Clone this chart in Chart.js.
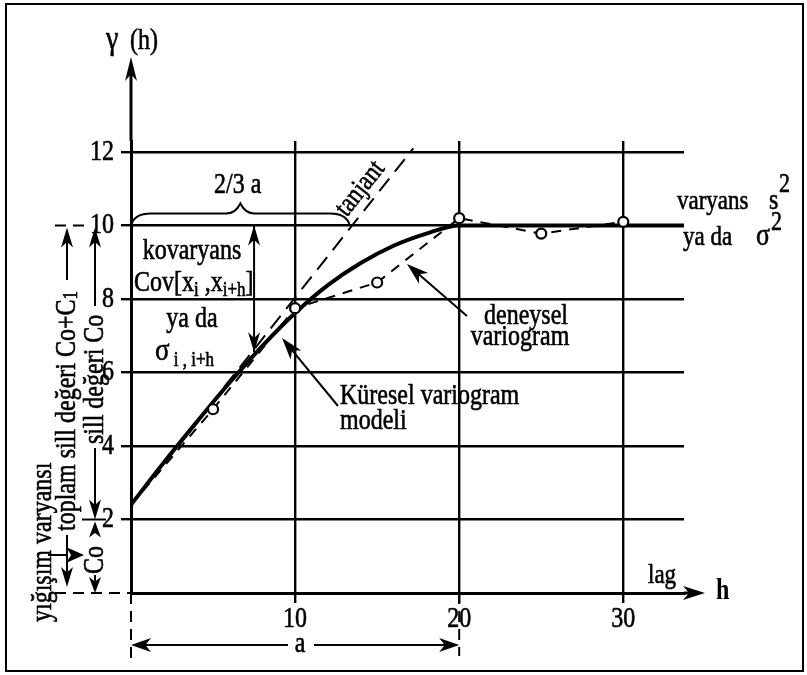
<!DOCTYPE html>
<html>
<head>
<meta charset="utf-8">
<title>Variogram</title>
<script src="https://cdn.jsdelivr.net/npm/chart.js@4.4.1/dist/chart.umd.min.js"></script>
<style>
  html, body { margin: 0; padding: 0; background: #fff; }
</style>
</head>
<body>
<canvas id="chartVariogram" width="807" height="675"></canvas>
<script>
// küresel model eğrisi (h, gamma)
const lagModel   = [0, 2, 4, 6, 8, 10, 12, 14, 16, 18, 20, 25, 30, 33.7];
const gammaModel = [2.4, 3.55, 4.65, 5.72, 6.72, 7.62, 8.38, 8.98, 9.45, 9.78, 10.0, 10.0, 10.0, 10.0];

// deneysel variogram noktaları (ilk nokta orijin, işaretsiz)
const lagObs   = [0, 5, 10, 15, 20, 25, 30];
const gammaObs = [2.4, 5.0, 7.75, 8.45, 10.2, 9.78, 10.1];

// tanjant doğrusu
const lagTan   = [0, 17.2];
const gammaTan = [2.4, 12.1];

// eksen değerleri
const xTicks = [10, 20, 30];
const yTicks = [2, 4, 6, 8, 10, 12];
const sill = 10;
const range = 20;
const nugget = 2;
const covLag = 7.5;
const covGamma = 6.55;

const serif = "'Liberation Serif', 'Times New Roman', serif";
const stretch = 1.2;   // taranmış şekildeki harfler biraz uzun

function toPoints(xs, ys) {
    return xs.map((x, i) => ({ x: x, y: ys[i] }));
}

function seg(ctx, x1, y1, x2, y2, w, dash) {
    ctx.save();
    ctx.lineWidth = w || 2;
    ctx.setLineDash(dash || []);
    ctx.beginPath();
    ctx.moveTo(x1, y1);
    ctx.lineTo(x2, y2);
    ctx.stroke();
    ctx.restore();
}

function head(ctx, x, y, ang, len, half) {
    len = len || 18;
    half = half || 6;
    ctx.save();
    ctx.translate(x, y);
    ctx.rotate(ang);
    ctx.beginPath();
    ctx.moveTo(0, 0);
    ctx.lineTo(-len, -half);
    ctx.lineTo(-len * 0.72, 0);
    ctx.lineTo(-len, half);
    ctx.closePath();
    ctx.fill();
    ctx.restore();
}

function arrow(ctx, x1, y1, x2, y2, w, len, half) {
    const ang = Math.atan2(y2 - y1, x2 - x1);
    seg(ctx, x1, y1, x2 - Math.cos(ang) * 6, y2 - Math.sin(ang) * 6, w);
    head(ctx, x2, y2, ang, len, half);
}

// parçalı metin: [metin, boyut, dikey kaydırma]
function parts(ctx, list, x, y) {
    ctx.save();
    ctx.translate(x, y);
    ctx.scale(1, stretch);
    ctx.lineWidth = 0.5;
    let cx = 0;
    list.forEach(p => {
        ctx.font = p[1] + 'px ' + serif;
        const dy = (p[2] || 0) / stretch;
        ctx.fillText(p[0], cx, dy);
        ctx.strokeText(p[0], cx, dy);
        cx += ctx.measureText(p[0]).width;
    });
    ctx.restore();
}

// dikey (aşağıdan yukarı) metin
function vParts(ctx, list, x, yBottom) {
    ctx.save();
    ctx.translate(x, yBottom);
    ctx.rotate(-Math.PI / 2);
    ctx.textBaseline = 'middle';
    ctx.textAlign = 'left';
    parts(ctx, list, 0, 0);
    ctx.restore();
}

const annotations = {
    id: 'annotations',
    afterDatasetsDraw(chart) {
        const ctx = chart.ctx;
        const xs = chart.scales.x;
        const ys = chart.scales.y;
        const X = v => xs.getPixelForValue(v);
        const Y = v => ys.getPixelForValue(v);
        const x0 = X(0), y0 = Y(0), y10 = Y(sill);

        ctx.save();
        ctx.fillStyle = '#000';
        ctx.strokeStyle = '#000';

        // çerçeve
        ctx.lineWidth = 2;
        ctx.strokeRect(6, 4, 797, 667);

        // eksen etiketleri
        ctx.textAlign = 'right';
        ctx.textBaseline = 'middle';
        ys.ticks.forEach(t => parts(ctx, [[String(t.value), 24]], x0 - 17, Y(t.value)));
        ctx.textAlign = 'center';
        ctx.textBaseline = 'alphabetic';
        xs.ticks.forEach(t => parts(ctx, [[String(t.value), 24]], X(t.value), 627));

        // eksen okları
        seg(ctx, x0, chart.chartArea.top, x0, 70, 3);
        head(ctx, x0, 57, -Math.PI / 2, 24, 6);
        seg(ctx, chart.chartArea.right, y0, 692, y0, 3);
        head(ctx, 705, y0, 0, 22, 7);

        ctx.textAlign = 'left';
        parts(ctx, [['\u03b3', 28]], 106, 49);
        parts(ctx, [['(h)', 24]], 130, 49);
        parts(ctx, [['lag', 23]], 648, 583);
        ctx.save();
        ctx.translate(716, 599);
        ctx.scale(1, stretch);
        ctx.font = 'bold 24px ' + serif;
        ctx.fillText('h', 0, 0);
        ctx.restore();

        // sol kesikli çizgiler
        seg(ctx, 55, y10, 88, y10, 2, [11, 7]);
        seg(ctx, 55, y0, x0, y0, 2, [11, 7]);
        seg(ctx, x0, y0, x0, 660, 2, [11, 7]);
        seg(ctx, X(range), y0, X(range), 656, 2, [11, 7]);

        // menzil a
        arrow(ctx, 288, 645, x0, 645, 2, 20, 7);
        arrow(ctx, 314, 645, X(range), 645, 2, 20, 7);
        ctx.textAlign = 'center';
        parts(ctx, [['a', 24]], 300, 652);

        // 2/3 a küme parantezi
        const mid = X(range / 3), xr = X(range * 2 / 3);
        const top = y10 - 12, peak = y10 - 22;
        ctx.lineWidth = 2;
        ctx.beginPath();
        ctx.moveTo(x0, y10);
        ctx.quadraticCurveTo(x0 + 3, top, x0 + 20, top);
        ctx.lineTo(mid - 14, top);
        ctx.quadraticCurveTo(mid - 5, top, mid, peak);
        ctx.quadraticCurveTo(mid + 5, top, mid + 14, top);
        ctx.lineTo(xr - 20, top);
        ctx.quadraticCurveTo(xr - 3, top, xr, y10);
        ctx.stroke();
        ctx.textAlign = 'left';
        parts(ctx, [['2/3 a', 24]], 214, 193);

        // tanjant yazısı
        const ang = Math.atan2(Y(gammaTan[1]) - Y(gammaTan[0]), X(lagTan[1]) - X(lagTan[0]));
        ctx.save();
        ctx.translate(X(15.2) - 20, Y(11.0));
        ctx.rotate(ang);
        ctx.textAlign = 'center';
        ctx.textBaseline = 'middle';
        parts(ctx, [['tanjant', 23]], 0, 0);
        ctx.restore();

        // kovaryans oku
        const cx = X(covLag);
        seg(ctx, cx, Y(covGamma), cx, y10, 2);
        head(ctx, cx, y10, -Math.PI / 2, 20, 6);
        head(ctx, cx, Y(covGamma), Math.PI / 2, 20, 6);

        ctx.textAlign = 'center';
        parts(ctx, [['kovaryans', 24]], 192, 259);
        ctx.textAlign = 'left';
        parts(ctx, [['Cov[x', 24], ['i', 17, 5], [' ,x', 24], ['i+h', 17, 5], [']', 24]], 134, 291);
        ctx.textAlign = 'center';
        parts(ctx, [['ya da', 24]], 192, 327);
        ctx.textAlign = 'left';
        parts(ctx, [['\u03c3', 27], [' i , i+h', 17, 6]], 155, 360);

        // küresel model oku
        arrow(ctx, 338, 406, 282, 338, 2, 22, 7);
        parts(ctx, [['K\u00fcresel variogram', 24]], 340, 404);
        parts(ctx, [['modeli', 24]], 340, 429);

        // deneysel variogram oku
        arrow(ctx, 467, 316, 407, 264, 2, 22, 7);
        ctx.textAlign = 'center';
        parts(ctx, [['deneysel', 24]], 526, 324);
        parts(ctx, [['variogram', 24]], 520, 345);

        // sağ taraf yazıları
        ctx.textAlign = 'left';
        parts(ctx, [['varyans', 23]], 677, 209);
        parts(ctx, [['s', 24]], 769, 209);
        parts(ctx, [['2', 22]], 779, 192);
        parts(ctx, [['ya da', 23]], 683, 245);
        parts(ctx, [['\u03c3', 26]], 756, 245);
        parts(ctx, [['2', 22]], 771, 230);

        // sol dikey yazılar
        vParts(ctx, [['y\u0131\u011f\u0131\u015f\u0131m varyans\u0131', 24]], 43, 622);
        vParts(ctx, [['toplam sill de\u011feri Co+C', 24], ['1', 17, 5]], 67, 531);
        vParts(ctx, [['sill de\u011feri Co', 24]], 95, 444);
        vParts(ctx, [['Co', 24]], 95, 574);

        // sol oklar
        arrow(ctx, 67, 280, 67, y10 + 2, 2, 20, 6);
        arrow(ctx, 67, 535, 67, 587, 2, 20, 6);
        arrow(ctx, 95, 306, 95, y10 + 2, 2, 20, 6);
        arrow(ctx, 95, 448, 95, Y(nugget), 2, 20, 6);
        arrow(ctx, 95, 531, 95, Y(nugget) + 2, 2, 16, 6);
        arrow(ctx, 95, 575, 95, y0, 2, 16, 6);
        seg(ctx, 82, Y(nugget), 106, Y(nugget), 2);
        seg(ctx, 48, 555, 68, 555, 2);
        head(ctx, 84, 555, 0, 18, 8);

        ctx.restore();
    }
};

const ctx = document.getElementById('chartVariogram');
const chartVariogram = new Chart(ctx, {
    type: 'line',
    data: {
        datasets: [
            {
                label: 'deneysel variogram',
                data: toPoints(lagObs, gammaObs),
                borderColor: '#000',
                borderWidth: 2,
                borderDash: [10, 8],
                backgroundColor: '#fff',
                pointRadius: c => c.dataIndex === 0 ? 0 : 5,
                pointBorderWidth: 2.2,
                pointBorderColor: '#000',
                pointBackgroundColor: '#fff',
                tension: 0,
                order: 1
            },
            {
                label: 'Küresel variogram modeli',
                data: toPoints(lagModel, gammaModel),
                borderColor: '#000',
                borderWidth: 4,
                pointRadius: 0,
                cubicInterpolationMode: 'monotone',
                order: 2
            },
            {
                label: 'tanjant',
                data: toPoints(lagTan, gammaTan),
                borderColor: '#000',
                borderWidth: 2,
                borderDash: [16, 9],
                pointRadius: 0,
                order: 3
            }
        ]
    },
    options: {
        responsive: false,
        animation: false,
        layout: {
            padding: { left: 0, right: 123, top: 141, bottom: 0 }
        },
        scales: {
            x: {
                type: 'linear',
                min: 0,
                max: 33.7,
                afterBuildTicks: s => { s.ticks = xTicks.map(v => ({ value: v })); },
                afterFit: s => { s.height = 82; },
                grid: { color: '#000', lineWidth: 2.4, tickLength: 10 },
                border: { color: '#000', width: 3 },
                ticks: { display: false }
            },
            y: {
                min: 0,
                max: 12.3,
                afterBuildTicks: s => { s.ticks = yTicks.map(v => ({ value: v })); },
                afterFit: s => { s.width = 131; },
                grid: { color: '#000', lineWidth: 2.4, tickLength: 10 },
                border: { color: '#000', width: 3 },
                ticks: { display: false }
            }
        },
        plugins: {
            legend: { display: false },
            tooltip: { enabled: false }
        }
    },
    plugins: [annotations]
});
</script>
</body>
</html>
